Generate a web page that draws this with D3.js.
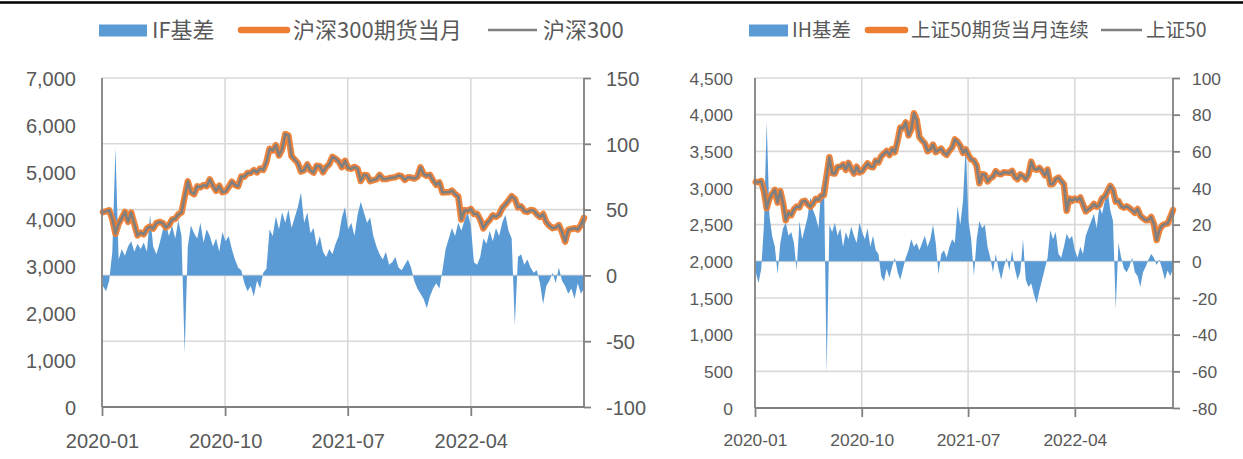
<!DOCTYPE html>
<html><head><meta charset="utf-8">
<script src="https://cdn.jsdelivr.net/npm/d3@7"></script>
<style>
html,body{margin:0;padding:0;background:#fff;}
svg{display:block;}
</style></head>
<body>
<svg id="chart" width="1243" height="459"></svg>
<script>
// Weekly observations (Friday closes), 2020-01-03 .. 2022-12-09
const weekStart = new Date(2020, 0, 3);
const weekEnd = new Date(2022, 11, 10);

// CSI 300 index
const hs300 = [4144,4163,4186,3999,3688,3899,4016,4149,3940,4138,
3895,3653,3710,3675,3796,3839,3797,3912,3938,3914,
3824,3868,3990,4003,4099,4138,4471,4800,4569,4528,
4695,4675,4723,4697,4842,4708,4601,4707,4570,4587,
4681,4793,4722,4695,4904,4899,4977,4980,5040,4993,
5071,5043,5211,5495,5458,5570,5351,5483,5807,5779,
5336,5262,5187,5009,5037,5161,5035,4988,5135,5123,
4996,5105,5168,5321,5282,5225,5102,5239,5082,5069,
5108,5070,4811,4934,4931,4806,4828,4845,4939,4853,
4849,4866,4880,4889,4925,4909,4832,4888,4881,4860,
4895,5100,4954,4921,4940,4818,4727,4779,4563,4570,
4569,4605,4528,4479,3990,4190,4172,4213,4105,4110,
3990,3800,3909,3978,4078,4048,4095,4239,4308,4394,
4485,4428,4247,4272,4170,4151,4191,4180,4100,4043,
4106,3932,3856,3804,3820,3871,3724,3520,3767,3788,
3802,3775,3870,4023];

// IF front-month futures
const hs300Fut = [4144,4163,4186,3999,3688,3899,4016,4149,3940,4138,
3895,3653,3710,3675,3796,3839,3797,3912,3938,3914,
3824,3868,3990,4003,4099,4138,4471,4800,4569,4528,
4695,4675,4723,4697,4842,4708,4601,4707,4570,4587,
4681,4793,4722,4695,4904,4899,4977,4980,5040,4993,
5071,5043,5211,5495,5458,5570,5351,5483,5807,5779,
5336,5262,5187,5009,5037,5161,5035,4988,5135,5123,
4996,5105,5168,5321,5282,5225,5102,5239,5082,5069,
5108,5070,4811,4934,4931,4806,4828,4845,4939,4853,
4849,4866,4880,4889,4925,4909,4832,4888,4881,4860,
4895,5100,4954,4921,4940,4818,4727,4779,4563,4570,
4569,4605,4528,4479,3990,4190,4172,4213,4105,4110,
3990,3800,3909,3978,4078,4048,4095,4239,4308,4394,
4485,4428,4247,4272,4170,4151,4191,4180,4100,4043,
4106,3932,3856,3804,3820,3871,3724,3520,3767,3788,
3802,3775,3870,4023];

// IF basis (index points)
const ifBasis = [-8,-12,-4,18,97,12,20,15,22,26,
18,24,20,25,18,46,22,16,24,34,
40,30,38,28,42,30,-59,22,38,32,
28,40,25,35,30,22,28,18,33,26,
30,20,12,6,4,-6,-12,-8,-16,-4,
-10,2,5,35,30,45,35,48,40,50,
36,44,52,63,40,48,32,36,22,30,
18,14,20,16,24,30,44,52,35,40,
30,46,56,48,40,44,30,22,16,12,
18,8,10,14,6,4,8,12,6,-4,
-10,-14,-18,-25,-16,-10,-6,-10,4,20,
28,36,30,40,34,42,48,38,10,8,
14,28,24,34,26,36,30,40,46,34,
28,-38,14,16,8,12,6,2,4,-6,
-22,-8,-4,2,-6,6,-4,-8,-14,-10,
-18,-6,-14,-10];

// SSE 50 index
const sz50 = [3083,3078,3095,2955,2724,2856,2918,2974,2800,2957,
2793,2560,2666,2630,2709,2747,2736,2815,2826,2779,
2745,2786,2853,2840,2896,2905,3176,3420,3200,3196,
3288,3291,3321,3249,3342,3259,3198,3291,3213,3228,
3285,3335,3292,3283,3373,3349,3433,3468,3505,3449,
3529,3488,3640,3826,3815,3895,3717,3797,4020,3930,
3694,3649,3609,3501,3527,3590,3490,3517,3537,3480,
3453,3508,3552,3662,3630,3576,3479,3526,3448,3390,
3375,3305,3064,3187,3181,3090,3133,3155,3229,3195,
3188,3216,3210,3206,3234,3151,3120,3185,3161,3119,
3180,3360,3262,3250,3274,3234,3171,3252,3050,3055,
3120,3142,3093,3049,2690,2857,2825,2856,2836,2870,
2774,2680,2710,2736,2783,2744,2769,2859,2884,2955,
3030,2972,2814,2823,2750,2731,2751,2728,2697,2662,
2713,2624,2588,2561,2565,2604,2509,2290,2425,2487,
2508,2515,2599,2700];

// IH front-month continuous futures
const sz50Fut = [3083,3078,3095,2955,2724,2856,2918,2974,2800,2957,
2793,2560,2666,2630,2709,2747,2736,2815,2826,2779,
2745,2786,2853,2840,2896,2905,3176,3420,3200,3196,
3288,3291,3321,3249,3342,3259,3198,3291,3213,3228,
3285,3335,3292,3283,3373,3349,3433,3468,3505,3449,
3529,3488,3640,3826,3815,3895,3717,3797,4020,3930,
3694,3649,3609,3501,3527,3590,3490,3517,3537,3480,
3453,3508,3552,3662,3630,3576,3479,3526,3448,3390,
3375,3305,3064,3187,3181,3090,3133,3155,3229,3195,
3188,3216,3210,3206,3234,3151,3120,3185,3161,3119,
3180,3360,3262,3250,3274,3234,3171,3252,3050,3055,
3120,3142,3093,3049,2690,2857,2825,2856,2836,2870,
2774,2680,2710,2736,2783,2744,2769,2859,2884,2955,
3030,2972,2814,2823,2750,2731,2751,2728,2697,2662,
2713,2624,2588,2561,2565,2604,2509,2290,2425,2487,
2508,2515,2599,2700];

// IH basis (index points)
const ihBasis = [-6,-12,-4,20,76,25,14,8,-7,10,
18,21,14,16,10,-5,22,12,18,24,
35,28,24,18,40,46,-61,20,16,21,
14,18,8,16,12,19,14,10,21,16,
12,18,8,14,6,4,-8,-11,-4,-9,
-3,2,-6,-10,-4,2,6,12,8,10,
6,10,14,8,12,20,10,-7,4,6,
2,8,12,10,30,20,33,64,22,12,
-8,12,22,18,20,8,2,-6,4,-4,
-10,-3,2,-5,6,-4,-10,-6,12,-10,
-14,-12,-18,-23,-16,-10,-4,2,17,12,
16,4,2,8,15,12,14,6,2,8,
4,14,18,22,26,18,30,26,33,39,
28,22,-26,10,2,-4,-6,-3,2,-6,
-8,-14,-6,-3,1,4,2,-2,1,-4,
-10,-5,-8,-4];

const xTickLabels = ["2020-01", "2020-10", "2021-07", "2022-04"];
const ifPriceTicks = [0, 1000, 2000, 3000, 4000, 5000, 6000, 7000];
const ifBasisTicks = [-100, -50, 0, 50, 100, 150];
const ihPriceTicks = [0, 500, 1000, 1500, 2000, 2500, 3000, 3500, 4000, 4500];
const ihBasisTicks = [-80, -60, -40, -20, 0, 20, 40, 60, 80, 100];
const ifLegend = ["IF基差", "沪深300期货当月", "沪深300"];
const ihLegend = ["IH基差", "上证50期货当月连续", "上证50"];

const C = {
  blue: "#5B9BD5", orange: "#ED7D31", gray: "#7F7F7F",
  grid: "#D9D9D9", axis: "#808080", text: "#595959"
};
const NUM_FONT = "'Liberation Sans', Arial, sans-serif";
const CJK_FONT = "'Noto Sans CJK SC', 'Liberation Sans', sans-serif";

const svg = d3.select("#chart");
const weeks = d3.timeFriday.range(weekStart, weekEnd);
const parseMonth = d3.timeParse("%Y-%m");
const fmt = d3.format(",");
const plain = d => String(d);   // keeps an ASCII hyphen for negatives

// thin black rule across the top
svg.append("line").attr("x1", 0).attr("x2", 1243).attr("y1", 2.5).attr("y2", 2.5)
  .attr("stroke", "#000").attr("stroke-width", 2.5);

function panel(cfg) {
  const g = svg.append("g");
  const x = d3.scaleTime()
    .domain([new Date(2020, 0, 1), new Date(2022, 11, 9)])
    .range([cfg.left, cfg.right]);
  const yP = d3.scaleLinear().domain(d3.extent(cfg.priceTicks)).range([cfg.bottom, cfg.top]);
  const yB = d3.scaleLinear().domain(d3.extent(cfg.basisTicks)).range([cfg.bottom, cfg.top]);
  const xt = cfg.xTicks.map(parseMonth);

  // grid
  g.append("g").selectAll("line").data(cfg.basisTicks).join("line")
    .attr("x1", cfg.left).attr("x2", cfg.right)
    .attr("y1", d => yB(d)).attr("y2", d => yB(d))
    .attr("stroke", C.grid).attr("stroke-width", 1.6);
  g.append("g").selectAll("line").data(xt.slice(1)).join("line")
    .attr("x1", d => x(d)).attr("x2", d => x(d))
    .attr("y1", cfg.top).attr("y2", cfg.bottom)
    .attr("stroke", C.grid).attr("stroke-width", 1.6);

  const rows = weeks.map((d, i) => ({ d, b: cfg.basis[i], f: cfg.fut[i], s: cfg.spot[i] }));

  // basis area
  g.append("path").datum(rows)
    .attr("fill", C.blue)
    .attr("d", d3.area().x(r => x(r.d)).y0(yB(0)).y1(r => yB(r.b)));

  // futures and index lines
  g.append("path").datum(rows)
    .attr("fill", "none").attr("stroke", C.orange).attr("stroke-width", 6.5)
    .attr("stroke-linejoin", "round").attr("stroke-linecap", "round").attr("opacity", 0.95)
    .attr("d", d3.line().x(r => x(r.d)).y(r => yP(r.f)));
  g.append("path").datum(rows)
    .attr("fill", "none").attr("stroke", C.gray).attr("stroke-width", 2.6)
    .attr("stroke-linejoin", "round")
    .attr("d", d3.line().x(r => x(r.d)).y(r => yP(r.s)));

  // axis lines
  g.append("line").attr("x1", cfg.left).attr("x2", cfg.left).attr("y1", cfg.top).attr("y2", cfg.bottom)
    .attr("stroke", C.axis).attr("stroke-width", 1.8);
  g.append("line").attr("x1", cfg.left).attr("x2", cfg.right).attr("y1", cfg.bottom).attr("y2", cfg.bottom)
    .attr("stroke", C.axis).attr("stroke-width", 1.8);

  // right axis with outward ticks
  const ra = g.append("g").attr("transform", `translate(${cfg.right},0)`)
    .call(d3.axisRight(yB).tickValues(cfg.basisTicks).tickSize(7).tickPadding(cfg.rightPad).tickFormat(plain));
  ra.select(".domain").attr("stroke", C.axis).attr("stroke-width", 1.8).attr("d", `M0,${cfg.top}V${cfg.bottom}`);
  ra.selectAll(".tick line").attr("stroke", C.axis).attr("stroke-width", 1.8);
  ra.selectAll(".tick text").attr("fill", C.text).attr("font-family", NUM_FONT).attr("font-size", cfg.numSize)
    .attr("dy", "0.36em");

  // left price axis
  const la = g.append("g").attr("transform", `translate(${cfg.left},0)`)
    .call(d3.axisLeft(yP).tickValues(cfg.priceTicks).tickSize(0).tickPadding(cfg.leftPad).tickFormat(fmt));
  la.select(".domain").remove();
  la.selectAll(".tick text").attr("fill", C.text).attr("font-family", NUM_FONT).attr("font-size", cfg.numSize)
    .attr("dy", "0.36em");

  // date axis
  const xa = g.append("g").attr("transform", `translate(0,${cfg.bottom})`)
    .call(d3.axisBottom(x).tickValues(xt).tickSize(9).tickPadding(cfg.datePad).tickFormat(d3.timeFormat("%Y-%m")));
  xa.select(".domain").remove();
  xa.selectAll(".tick line").attr("stroke", C.axis).attr("stroke-width", 1.8);
  xa.selectAll(".tick text").attr("fill", C.text).attr("font-family", NUM_FONT).attr("font-size", cfg.numSize);

  // legend
  const lg = g.append("g");
  const L = cfg.legend;
  lg.append("rect").attr("x", L.rect[0]).attr("y", 24.5).attr("width", L.rect[1] - L.rect[0]).attr("height", 12)
    .attr("fill", C.blue);
  lg.append("line").attr("x1", L.orange[0]).attr("x2", L.orange[1]).attr("y1", 30).attr("y2", 30)
    .attr("stroke", C.orange).attr("stroke-width", 6.5).attr("stroke-linecap", "round");
  lg.append("line").attr("x1", L.gray[0]).attr("x2", L.gray[1]).attr("y1", 30).attr("y2", 30)
    .attr("stroke", C.gray).attr("stroke-width", 2.6);
  lg.selectAll("text").data(cfg.legendText).join("text")
    .attr("x", (d, i) => L.text[i]).attr("y", cfg.legendBase)
    .attr("fill", C.text).attr("font-family", CJK_FONT).attr("font-size", cfg.legendSize)
    .text(d => d);
}

panel({
  left: 102, right: 584, top: 78, bottom: 407, leftPad: 26, rightPad: 15, datePad: 18,
  numSize: 20, legendSize: 22, legendBase: 38,
  priceTicks: ifPriceTicks, basisTicks: ifBasisTicks, xTicks: xTickLabels,
  spot: hs300, fut: hs300Fut, basis: ifBasis, legendText: ifLegend,
  legend: { rect: [99, 147], orange: [241, 287], gray: [488, 537], text: [152, 293, 543] }
});
panel({
  left: 755, right: 1173, top: 78, bottom: 408, leftPad: 22, rightPad: 12, datePad: 17,
  numSize: 17.4, legendSize: 19.5, legendBase: 37,
  priceTicks: ihPriceTicks, basisTicks: ihBasisTicks, xTicks: xTickLabels,
  spot: sz50, fut: sz50Fut, basis: ihBasis, legendText: ihLegend,
  legend: { rect: [749, 788], orange: [868, 905], gray: [1101, 1142], text: [792, 911, 1146] }
});
</script>
</body></html>
